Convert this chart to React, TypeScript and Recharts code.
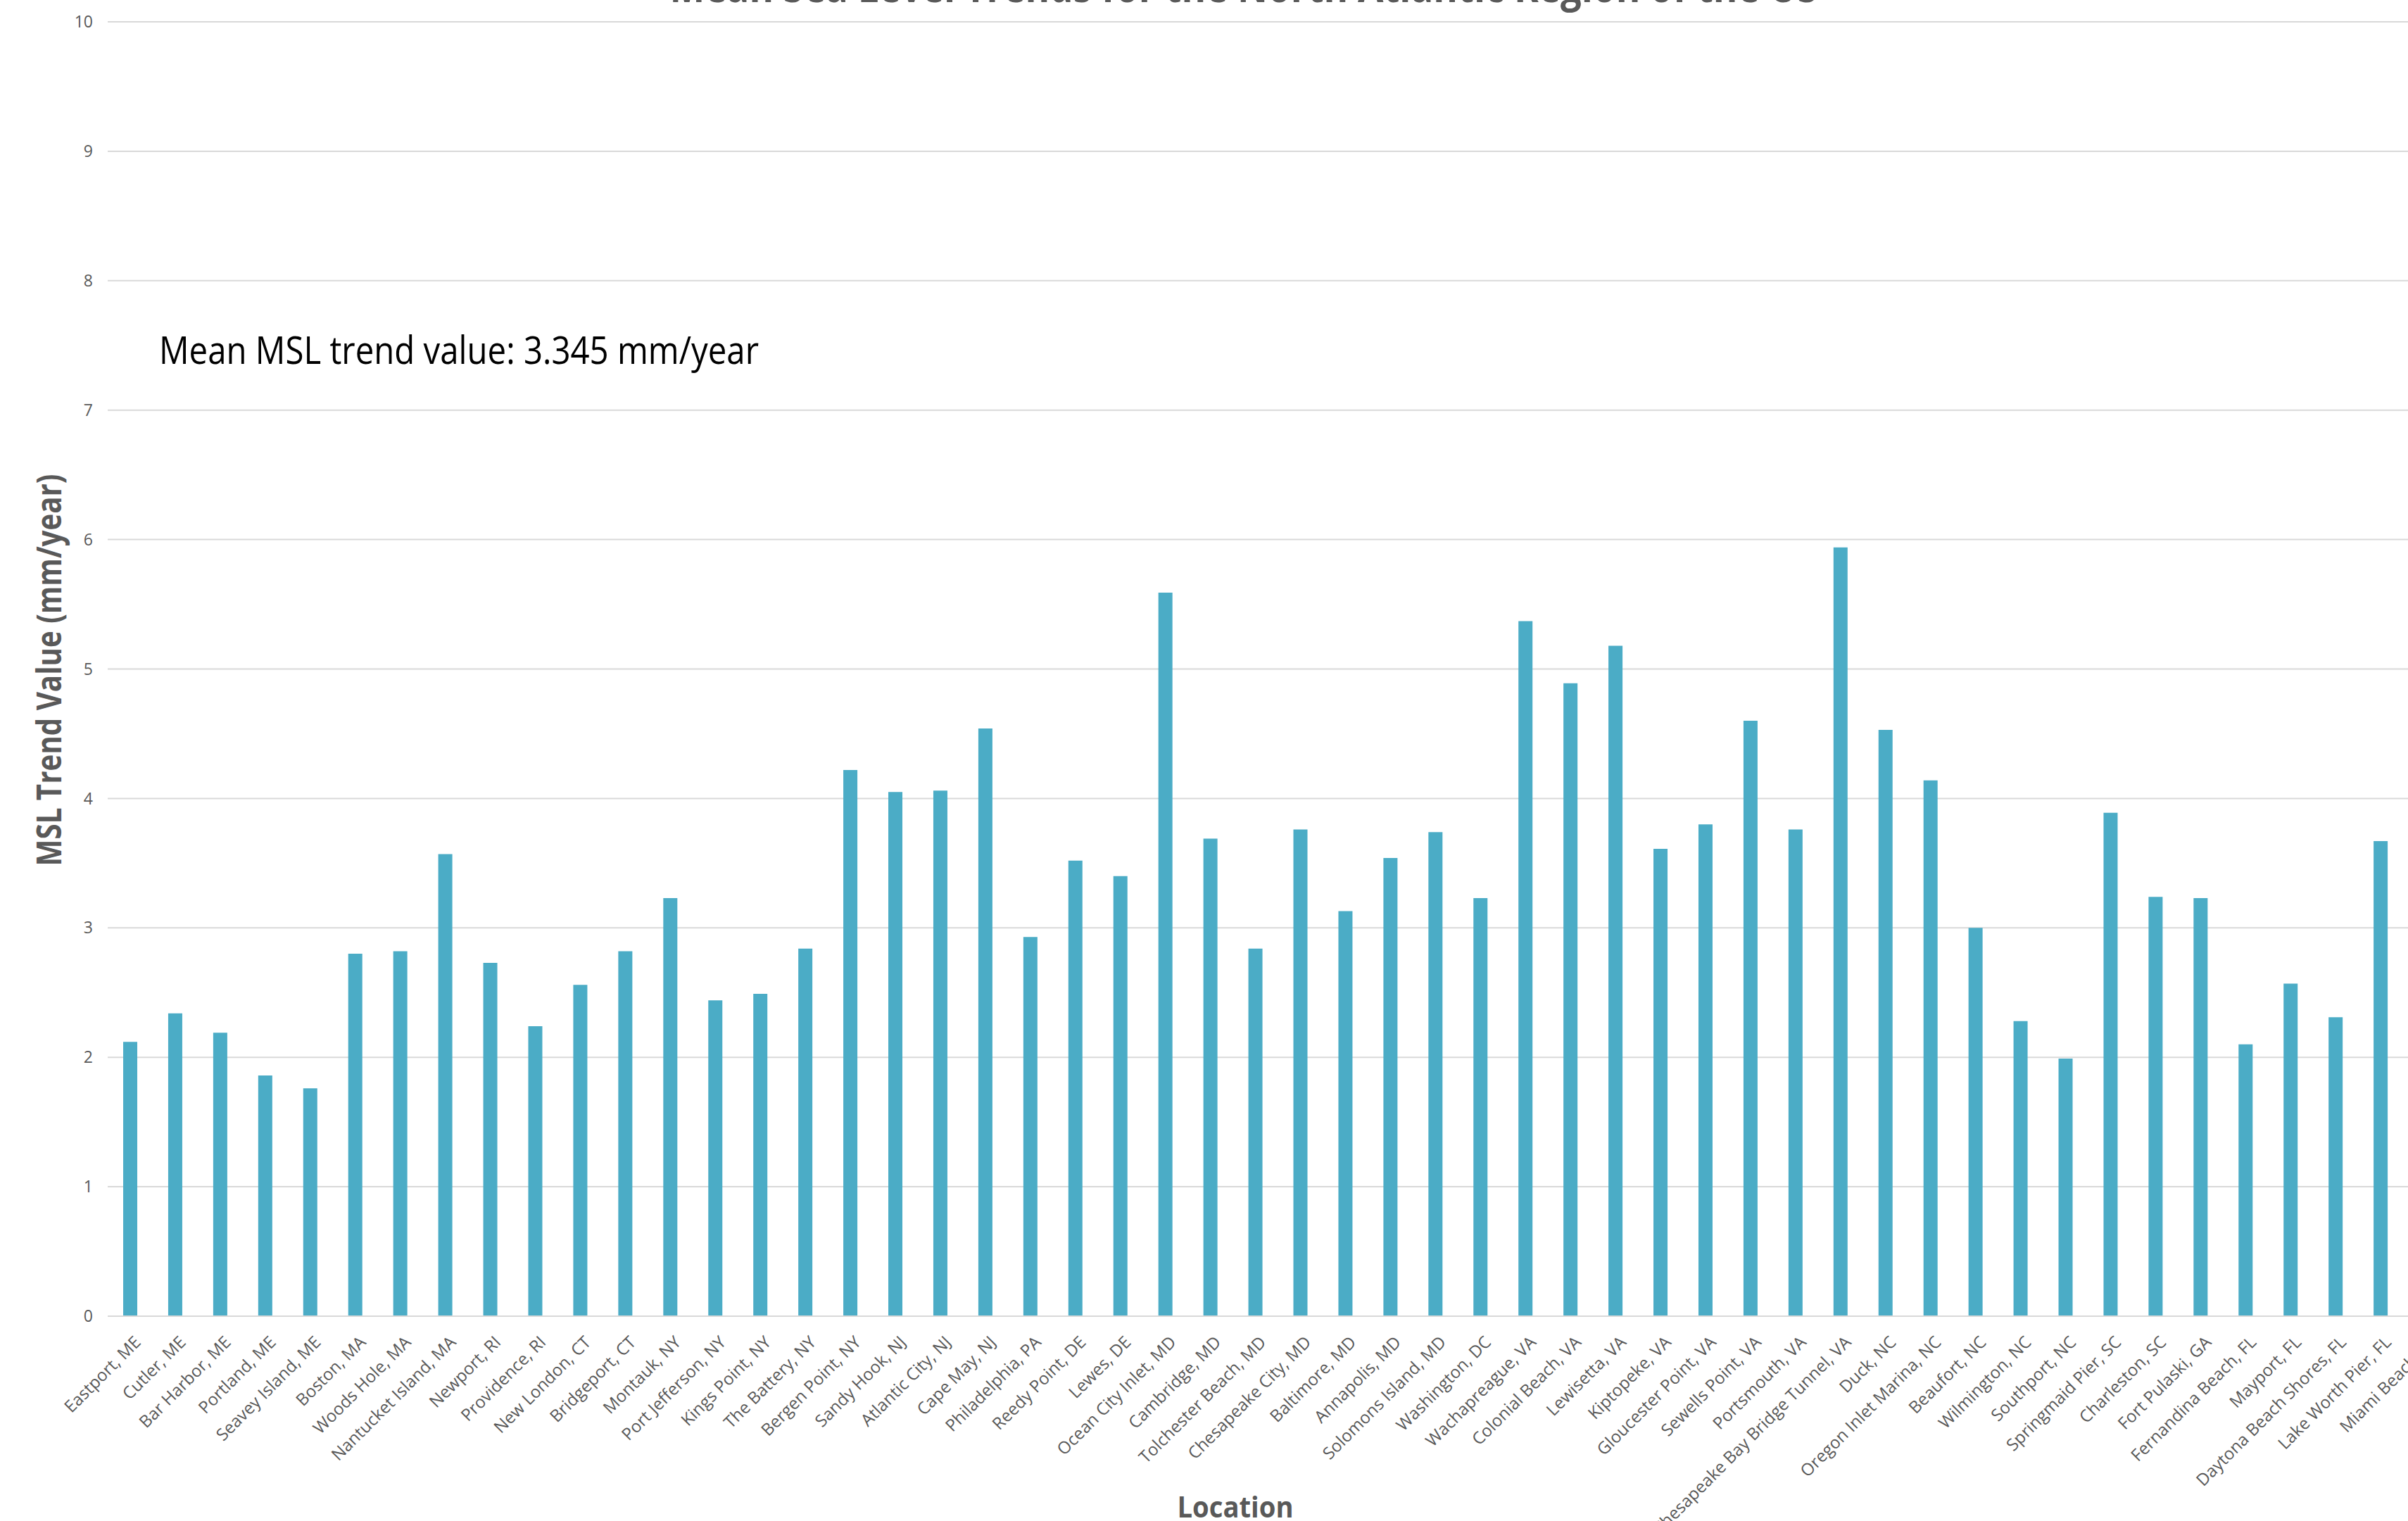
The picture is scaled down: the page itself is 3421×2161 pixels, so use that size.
import React from 'react';
import { BarChart, Bar, XAxis, YAxis, CartesianGrid } from 'recharts';

const locations = [
    'Eastport, ME', 'Cutler, ME', 'Bar Harbor, ME', 'Portland, ME', 'Seavey Island, ME',
    'Boston, MA', 'Woods Hole, MA', 'Nantucket Island, MA', 'Newport, RI', 'Providence, RI',
    'New London, CT', 'Bridgeport, CT', 'Montauk, NY', 'Port Jefferson, NY', 'Kings Point, NY',
    'The Battery, NY', 'Bergen Point, NY', 'Sandy Hook, NJ', 'Atlantic City, NJ', 'Cape May, NJ',
    'Philadelphia, PA', 'Reedy Point, DE', 'Lewes, DE', 'Ocean City Inlet, MD', 'Cambridge, MD',
    'Tolchester Beach, MD', 'Chesapeake City, MD', 'Baltimore, MD', 'Annapolis, MD', 'Solomons Island, MD',
    'Washington, DC', 'Wachapreague, VA', 'Colonial Beach, VA', 'Lewisetta, VA', 'Kiptopeke, VA',
    'Gloucester Point, VA', 'Sewells Point, VA', 'Portsmouth, VA', 'Chesapeake Bay Bridge Tunnel, VA', 'Duck, NC',
    'Oregon Inlet Marina, NC', 'Beaufort, NC', 'Wilmington, NC', 'Southport, NC', 'Springmaid Pier, SC',
    'Charleston, SC', 'Fort Pulaski, GA', 'Fernandina Beach, FL', 'Mayport, FL', 'Daytona Beach Shores, FL',
    'Lake Worth Pier, FL', 'Miami Beach, FL',
];

// mm/year
const trendValues = [
    2.12, 2.34, 2.19, 1.86, 1.76,
    2.80, 2.82, 3.57, 2.73, 2.24,
    2.56, 2.82, 3.23, 2.44, 2.49,
    2.84, 4.22, 4.05, 4.06, 4.54,
    2.93, 3.52, 3.40, 5.59, 3.69,
    2.84, 3.76, 3.13, 3.54, 3.74,
    3.23, 5.37, 4.89, 5.18, 3.61,
    3.80, 4.60, 3.76, 5.94, 4.53,
    4.14, 3.00, 2.28, 1.99, 3.89,
    3.24, 3.23, 2.10, 2.57, 2.31,
    3.67, 2.39,
];

const yTicks = [0, 1, 2, 3, 4, 5, 6, 7, 8, 9, 10];

const chartData = locations.map((name, i) => ({ name, value: trendValues[i] }));

const FONT = '"Open Sans", sans-serif';

const LocationTick = ({ x, y, payload }: any) => {
    const tx = x + 4;
    return (
        <text
            x={tx}
            y={y}
            dy="0.74em"
            transform={`rotate(-45, ${tx}, ${y})`}
            textAnchor="end"
            fill="#595959"
            fontSize={24}
            fontFamily={FONT}
        >
            {payload.value}
        </text>
    );
};

const App = () => {
    return (
        <div style={{ position: 'fixed', left: 0, top: 0, width: 3421, height: 2161, overflow: 'hidden', background: '#fff' }}>
            <BarChart
                width={3500}
                height={2161}
                data={chartData}
                margin={{ top: 31, right: 22, bottom: 0, left: 0 }}
            >
                <CartesianGrid stroke="#d9d9d9" strokeWidth={2} vertical={false} />
                <XAxis
                    dataKey="name"
                    height={291}
                    interval={0}
                    tickLine={false}
                    tickSize={0}
                    tickMargin={26}
                    axisLine={{ stroke: '#d9d9d9', strokeWidth: 2 }}
                    tick={<LocationTick />}
                />
                <YAxis
                    width={153}
                    domain={[0, 10]}
                    ticks={yTicks}
                    interval={0}
                    axisLine={false}
                    tickLine={false}
                    tickSize={0}
                    tickMargin={21}
                    tick={{ fill: '#595959', fontSize: 23, fontFamily: FONT }}
                />
                <Bar dataKey="value" fill="#4bacc6" barSize={20} isAnimationActive={false} />
            </BarChart>
            <svg
                width={3421}
                height={2161}
                style={{ position: 'absolute', left: 0, top: 0, pointerEvents: 'none' }}
            >
                <text
                    x={1767}
                    y={3}
                    textAnchor="middle"
                    fontFamily={FONT}
                    fontWeight={700}
                    fontSize={60}
                    fill="#595959"
                    textLength={1631}
                    lengthAdjust="spacingAndGlyphs"
                >
                    Mean Sea Level Trends for the North Atlantic Region of the US
                </text>
                <text
                    x={226}
                    y={517}
                    fontFamily={FONT}
                    fontSize={54}
                    fill="#000"
                    textLength={852}
                    lengthAdjust="spacingAndGlyphs"
                >
                    Mean MSL trend value: 3.345 mm/year
                </text>
                <text
                    x={0}
                    y={0}
                    transform="translate(87, 952) rotate(-90)"
                    textAnchor="middle"
                    fontFamily={FONT}
                    fontWeight={700}
                    fontSize={48}
                    fill="#595959"
                    textLength={557}
                    lengthAdjust="spacingAndGlyphs"
                >
                    MSL Trend Value (mm/year)
                </text>
                <text
                    x={1755}
                    y={2156}
                    textAnchor="middle"
                    fontFamily={FONT}
                    fontWeight={700}
                    fontSize={42}
                    fill="#595959"
                    textLength={165}
                    lengthAdjust="spacingAndGlyphs"
                >
                    Location
                </text>
            </svg>
        </div>
    );
};

export default App;
